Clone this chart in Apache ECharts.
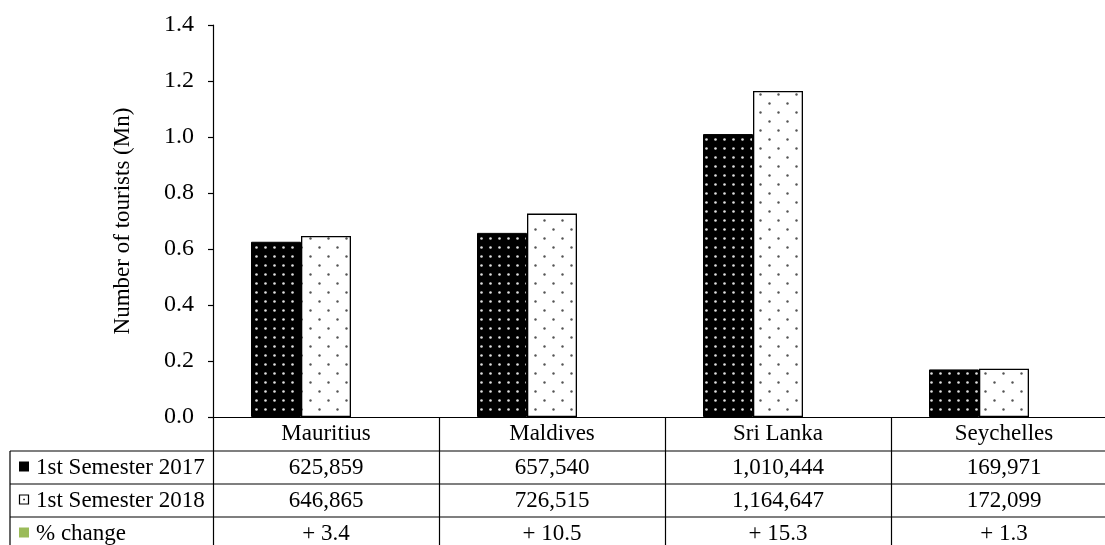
<!DOCTYPE html>
<html><head><meta charset="utf-8">
<script src="https://cdn.jsdelivr.net/npm/echarts@6/dist/echarts.min.js"></script>
<style>html,body{margin:0;padding:0;background:#fff;overflow:hidden;width:1105px;height:545px}#c{width:1117px;height:545px}</style>
</head><body><div id="c"></div>
<script>
var categories = ['Mauritius', 'Maldives', 'Sri Lanka', 'Seychelles'];
var sem2017 = [625859, 657540, 1010444, 169971];
var sem2018 = [646865, 726515, 1164647, 172099];
var pctChange = [3.4, 10.5, 15.3, 1.3];
var yTicks = [0, 0.2, 0.4, 0.6, 0.8, 1.0, 1.2, 1.4];
var rowLabels = ['1st Semester 2017', '1st Semester 2018', '% change'];

var FONT = '"Liberation Serif", "Times New Roman", serif';
function pattern(bg, dot, tile, pts, r) {
  var c = document.createElement('canvas');
  c.width = tile; c.height = tile;
  var g = c.getContext('2d');
  g.fillStyle = bg; g.fillRect(0, 0, tile, tile);
  g.fillStyle = dot;
  pts.forEach(function (p) { g.beginPath(); g.arc(p[0], p[1], r, 0, Math.PI * 2); g.fill(); });
  return c;
}
var pat17 = pattern('#000', '#e0e0e0', 9, [[4.5, 4.5]], 1.3);
var pat18 = pattern('#fff', '#555', 18, [[4.5, 4.5], [13.5, 13.5]], 1.2);

var toMn = function (v) { return v / 1e6; };
var chart = echarts.init(document.getElementById('c'));
chart.setOption({
  animation: false,
  grid: { left: 213, top: 25, bottom: 128, right: 0, containLabel: false },
  xAxis: {
    type: 'category', data: categories,
    axisLine: { lineStyle: { color: '#000', width: 1.2 } },
    axisTick: { show: true, length: 140, lineStyle: { color: '#000', width: 1.2 } },
    axisLabel: { color: '#000', fontFamily: FONT, fontSize: 23, margin: 5 }
  },
  yAxis: [{
    type: 'value', min: 0, max: 1.4, interval: 0.2,
    name: 'Number of tourists (Mn)', nameLocation: 'middle', nameGap: 79,
    nameTextStyle: { color: '#000', fontFamily: FONT, fontSize: 23 },
    splitLine: { show: false },
    axisLine: { show: true, lineStyle: { color: '#000', width: 1.2 } },
    axisTick: { show: true, length: 5, lineStyle: { color: '#000', width: 1.2 } },
    axisLabel: { color: '#000', fontFamily: FONT, fontSize: 24, margin: 19,
      formatter: function (v) { return v.toFixed(1); } }
  }, {
    type: 'value', min: 0, max: 100000, show: false, splitLine: { show: false }
  }],
  series: [
    { name: rowLabels[0], type: 'bar', barWidth: 50, barGap: '0%', data: sem2017.map(toMn),
      itemStyle: { color: { image: pat17, repeat: 'repeat' }, borderColor: '#000', borderWidth: 1 } },
    { name: rowLabels[1], type: 'bar', barWidth: 50, barGap: '0%', data: sem2018.map(toMn),
      itemStyle: { color: { image: pat18, repeat: 'repeat' }, borderColor: '#000', borderWidth: 1.3 } },
    { name: rowLabels[2], type: 'bar', barWidth: 50, barGap: '0%', yAxisIndex: 1, data: pctChange,
      itemStyle: { color: '#9BBB59' } }
  ]
});

// data table below the axis
var rowsY = [451, 484, 517, 550];
var els = [];
var lineStyle = { stroke: '#000', lineWidth: 1.2 };
rowsY.slice(0, 3).forEach(function (y) {
  els.push({ type: 'line', shape: { x1: 10, y1: y, x2: 1117, y2: y }, style: lineStyle, silent: true });
});
els.push({ type: 'line', shape: { x1: 10, y1: 451, x2: 10, y2: 545 }, style: lineStyle, silent: true });
var rows = [
  sem2017.map(function (v) { return v.toLocaleString('en-US'); }),
  sem2018.map(function (v) { return v.toLocaleString('en-US'); }),
  pctChange.map(function (v) { return '+ ' + v.toFixed(1); })
];
rows.forEach(function (vals, r) {
  var cy = (rowsY[r] + rowsY[r + 1]) / 2;
  var icon;
  if (r === 0) icon = { type: 'rect', shape: { x: 19, y: cy - 6, width: 10, height: 10 }, style: { fill: '#000' } };
  else if (r === 1) icon = { type: 'group', children: [
    { type: 'rect', shape: { x: 19.5, y: cy - 5.5, width: 9, height: 9 }, style: { fill: '#fff', stroke: '#000', lineWidth: 1.2 } },
    { type: 'rect', shape: { x: 23.3, y: cy - 1.7, width: 1.5, height: 1.5 }, style: { fill: '#000' } }] };
  else icon = { type: 'rect', shape: { x: 19, y: cy - 6, width: 10, height: 10 }, style: { fill: '#9BBB59' } };
  els.push(icon);
  els.push({ type: 'text', x: 36, y: cy, style: { text: rowLabels[r], font: '23px ' + FONT, fill: '#000', textAlign: 'left', textVerticalAlign: 'middle' } });
  vals.forEach(function (t, i) {
    var cx = chart.convertToPixel({ xAxisIndex: 0 }, i);
    els.push({ type: 'text', x: cx, y: cy, style: { text: t, font: '23px ' + FONT, fill: '#000', textAlign: 'center', textVerticalAlign: 'middle' } });
  });
});
chart.setOption({ graphic: els });
</script></body></html>
